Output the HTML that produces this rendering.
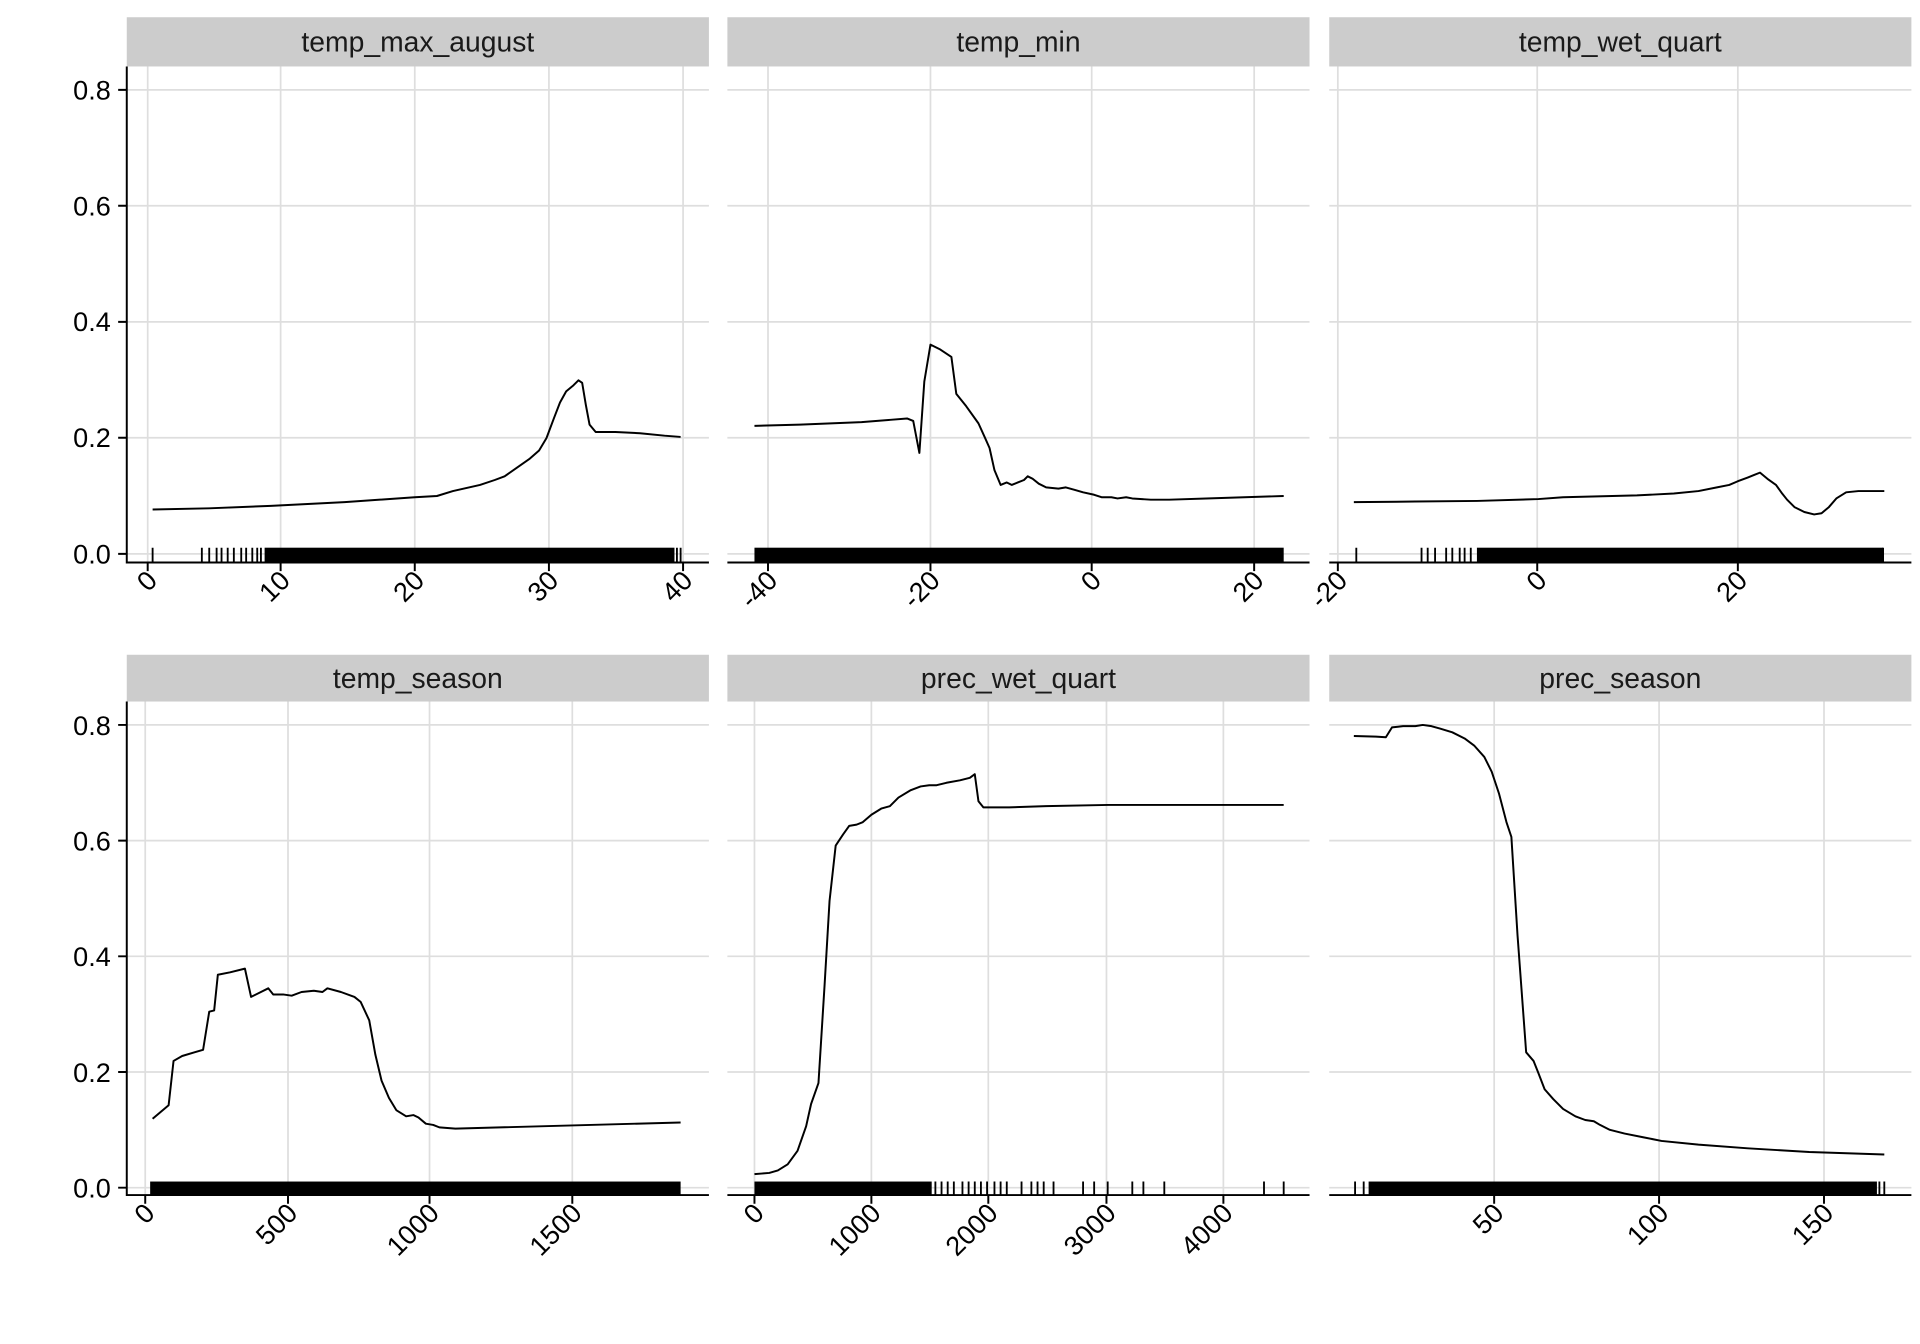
<!DOCTYPE html>
<html><head><meta charset="utf-8"><style>html,body{margin:0;padding:0;background:#fff}svg{display:block}</style></head>
<body>
<svg width="1920" height="1344" viewBox="0 0 1560 1092" xmlns="http://www.w3.org/2000/svg" font-family="Liberation Sans, Arial, sans-serif">
<rect width="1560" height="1092" fill="#fff"/>
<g stroke="#dedede" stroke-width="1.4" fill="none">
<path d="M103 73H576M103 167.2H576M103 261.5H576M103 355.7H576M103 450H576"/>
<path d="M591 73H1064M591 167.2H1064M591 261.5H1064M591 355.7H1064M591 450H1064"/>
<path d="M1080 73H1553M1080 167.2H1553M1080 261.5H1553M1080 355.7H1553M1080 450H1553"/>
<path d="M103 589H576M103 683H576M103 777H576M103 871H576M103 965H576"/>
<path d="M591 589H1064M591 683H1064M591 777H1064M591 871H1064M591 965H1064"/>
<path d="M1080 589H1553M1080 683H1553M1080 777H1553M1080 871H1553M1080 965H1553"/>
<path d="M120 54V457M228 54V457M337 54V457M446 54V457M555 54V457"/>
<path d="M624 54V457M756 54V457M887 54V457M1019 54V457"/>
<path d="M1087 54V457M1249 54V457M1412 54V457"/>
<path d="M118 570V971M234 570V971M349 570V971M465 570V971"/>
<path d="M613 570V971M708 570V971M803 570V971M899 570V971M994 570V971"/>
<path d="M1214 570V971M1348 570V971M1482 570V971"/>
</g>
<g fill="#cccccc">
<rect x="103" y="14" width="473" height="40"/><rect x="591" y="14" width="473" height="40"/><rect x="1080" y="14" width="473" height="40"/>
<rect x="103" y="532" width="473" height="38"/><rect x="591" y="532" width="473" height="38"/><rect x="1080" y="532" width="473" height="38"/>
</g>
<g font-size="23" fill="#1a1a1a" text-anchor="middle">
<text x="339.5" y="42">temp_max_august</text><text x="827.5" y="42">temp_min</text><text x="1316.5" y="42">temp_wet_quart</text>
<text x="339.5" y="559">temp_season</text><text x="827.5" y="559">prec_wet_quart</text><text x="1316.5" y="559">prec_season</text>
</g>
<g stroke="#000" stroke-width="1.6" fill="none">
<path d="M103 54V457H576M591 457H1064M1080 457H1553"/>
<path d="M103 570V971H576M591 971H1064M1080 971H1553"/>
<path d="M96 73H103M96 167.2H103M96 261.5H103M96 355.7H103M96 450H103"/>
<path d="M96 589H103M96 683H103M96 777H103M96 871H103M96 965H103"/>
<path d="M120 457v7M228 457v7M337 457v7M446 457v7M555 457v7M624 457v7M756 457v7M887 457v7M1019 457v7M1087 457v7M1249 457v7M1412 457v7"/>
<path d="M118 971v7M234 971v7M349 971v7M465 971v7M613 971v7M708 971v7M803 971v7M899 971v7M994 971v7M1214 971v7M1348 971v7M1482 971v7"/>
</g>
<g font-size="22" fill="#000" text-anchor="end">
<text x="90" y="81">0.8</text><text x="90" y="175">0.6</text><text x="90" y="269">0.4</text><text x="90" y="363">0.2</text><text x="90" y="458">0.0</text>
<text x="90" y="597">0.8</text><text x="90" y="691">0.6</text><text x="90" y="785">0.4</text><text x="90" y="879">0.2</text><text x="90" y="973">0.0</text>
</g>
<g font-size="22" fill="#000" text-anchor="end">
<text transform="translate(129,473) rotate(-45)">0</text>
<text transform="translate(237,473) rotate(-45)">10</text>
<text transform="translate(346,473) rotate(-45)">20</text>
<text transform="translate(455,473) rotate(-45)">30</text>
<text transform="translate(564,473) rotate(-45)">40</text>
<text transform="translate(633,473) rotate(-45)">-40</text>
<text transform="translate(765,473) rotate(-45)">-20</text>
<text transform="translate(896,473) rotate(-45)">0</text>
<text transform="translate(1028,473) rotate(-45)">20</text>
<text transform="translate(1096,473) rotate(-45)">-20</text>
<text transform="translate(1258,473) rotate(-45)">0</text>
<text transform="translate(1421,473) rotate(-45)">20</text>
<text transform="translate(127,987) rotate(-45)">0</text>
<text transform="translate(243,987) rotate(-45)">500</text>
<text transform="translate(358,987) rotate(-45)">1000</text>
<text transform="translate(474,987) rotate(-45)">1500</text>
<text transform="translate(622,987) rotate(-45)">0</text>
<text transform="translate(717,987) rotate(-45)">1000</text>
<text transform="translate(812,987) rotate(-45)">2000</text>
<text transform="translate(908,987) rotate(-45)">3000</text>
<text transform="translate(1003,987) rotate(-45)">4000</text>
<text transform="translate(1223,987) rotate(-45)">50</text>
<text transform="translate(1357,987) rotate(-45)">100</text>
<text transform="translate(1491,987) rotate(-45)">150</text>
</g>
<g fill="#000">
<rect x="215" y="445" width="333" height="12"/>
<rect x="613" y="445" width="430" height="12"/>
<rect x="1200" y="445" width="330" height="12"/>
<rect x="122" y="960" width="431" height="11"/>
<rect x="613" y="960" width="144" height="11"/>
<rect x="1112" y="960" width="413" height="11"/>
</g>
<g stroke="#000" stroke-width="1.5">
<path d="M124 445v12M164 445v12M170 445v12M176 445v12M180 445v12M185 445v12M190 445v12M196 445v12M200 445v12M205 445v12M209 445v12M212 445v12M550 445v12M553 445v12"/>
<path d="M1102 445v12M1155 445v12M1160 445v12M1166 445v12M1175 445v12M1180 445v12M1186 445v12M1190 445v12M1195 445v12M1530 445v12"/>
<path d="M760 960v11M765 960v11M770 960v11M775 960v11M782 960v11M787 960v11M792 960v11M797 960v11M802 960v11M808 960v11M813 960v11M818 960v11M830 960v11M838 960v11M843 960v11M848 960v11M856 960v11M880 960v11M889 960v11M900 960v11M920 960v11M929 960v11M946 960v11M1027 960v11M1043 960v11"/>
<path d="M1101 960v11M1108 960v11M1527 960v11M1531 960v11"/>
</g>
<g stroke="#000" stroke-width="1.6" fill="none" stroke-linejoin="round">
<polyline points="124,414 170,413 220,411 280,408 337,404 355,403 368,399 390,394 402,390 410,387 420,380 430,373 438,366 444,356 450,340 455,327 460,318 466,313 470,309 473,311 476,329 479,345 484,351 500,351 520,352 540,354 553,355"/>
<polyline points="613,346 650,345 700,343 737,340 742,342 747,368 751,310 756,280 764,284 773,290 777,320 785,330 795,344 800,355 804,364 808,382 813,394 818,392 822,394 827,392 832,390 835,387 839,389 844,393 850,396 860,397 866,396 873,398 880,400 889,402 895,404 903,404 908,405 915,404 920,405 935,406 950,406 980,405 1043,403"/>
<polyline points="1100,408 1150,407.5 1200,407 1250,405.5 1270,404 1330,402.5 1360,401 1380,399 1395,396 1405,394 1412,391 1420,388 1425,386 1430,384 1436,389 1443,394 1448,401 1452,406 1458,412 1466,416 1474,418 1480,417 1486,412 1492,405 1500,400 1510,399 1531,399"/>
<polyline points="124,909 137,898 141,862 148,858 158,855 165,853 170,822 174,821 177,792 187,790 199,787 204,810 212,806 218,803 222,808 230,808 237,809 245,806 255,805 262,806 266,803 277,806 288,810 293,814 300,829 305,857 310,878 316,892 322,902 330,907 336,906 340,908 346,913 352,914 357,916 370,917 553,912"/>
<polyline points="613,954 625,953 632,951 640,946 648,935 655,915 659,897 665,880 670,800 674,732 679,687 685,678 690,671 696,670 701,668 708,662 716,657 723,655 730,648 740,642 748,639 755,638 761,638 769,636 780,634 788,632 792,629 795,651 799,656 820,656 850,655 900,654 1043,654"/>
<polyline points="1100,598 1118,598.5 1126,599 1131,591 1140,590 1150,590 1156,589 1163,590 1170,592 1180,595 1190,600 1198,606 1206,615 1212,627 1218,645 1224,668 1228,680 1233,760 1240,855 1246,862 1250,872 1255,885 1262,893 1270,901 1280,907 1288,910 1295,911 1300,914 1308,918 1320,921 1335,924 1350,927 1380,930 1420,933 1470,936 1531,938"/>
</g>
</svg>
</body></html>
